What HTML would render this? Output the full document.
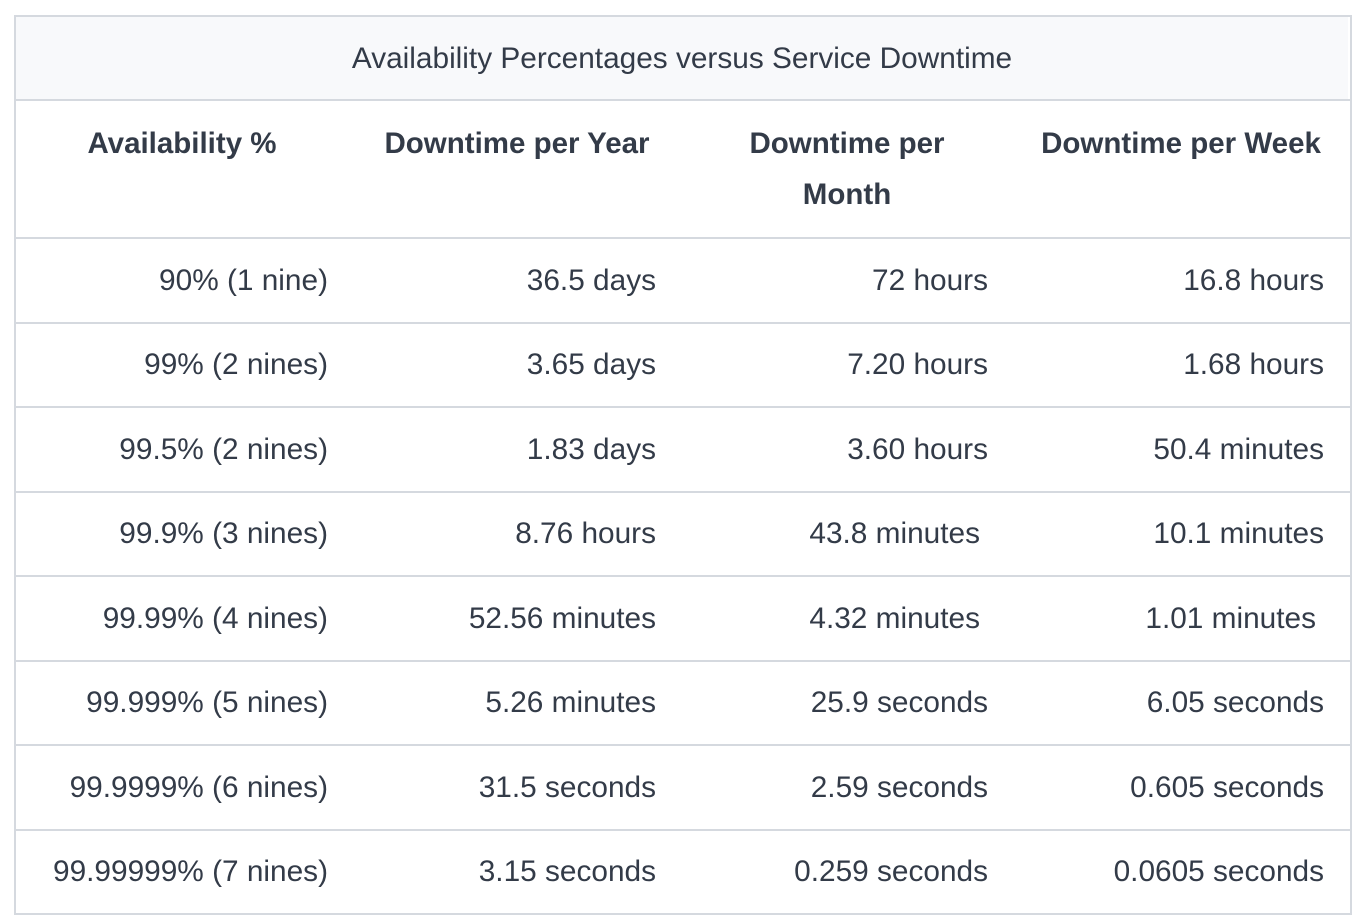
<!DOCTYPE html>
<html><head><meta charset="utf-8"><style>
body{margin:0;width:1362px;height:920px;background:#fff;font-family:"Liberation Sans",sans-serif;color:#333b48;position:relative;overflow:hidden}
.t{position:absolute;white-space:nowrap;font-size:29.8px;line-height:30px;height:30px}
.r{text-align:right}
.c{text-align:center}
.h{font-weight:bold;font-size:29.5px}
.line{position:absolute;left:14px;width:1336px;height:2px;background:#d5d9df}
</style></head><body>
<div style="position:absolute;left:14px;top:15px;width:1334px;height:896px;border:2px solid #d5d9df"></div>
<div style="position:absolute;left:16px;top:17px;width:1332px;height:83px;background:#f8f9fb"></div>
<div class="t c" style="left:14px;width:1336px;top:44px">Availability Percentages versus Service Downtime</div>
<div class="line" style="top:99px"></div>
<div class="t c h" style="left:82px;width:200px;top:129px">Availability %</div>
<div class="t c h" style="left:367px;width:300px;top:129px">Downtime per Year</div>
<div class="t c h" style="left:697px;width:300px;top:129px">Downtime per</div>
<div class="t c h" style="left:697px;width:300px;top:180px">Month</div>
<div class="t c h" style="left:1031px;width:300px;top:129px">Downtime per Week</div>
<script>
const availability=["90% (1 nine)","99% (2 nines)","99.5% (2 nines)","99.9% (3 nines)","99.99% (4 nines)","99.999% (5 nines)","99.9999% (6 nines)","99.99999% (7 nines)"];
const perYear=["36.5 days","3.65 days","1.83 days","8.76 hours","52.56 minutes","5.26 minutes","31.5 seconds","3.15 seconds"];
const perMonth=["72 hours","7.20 hours","3.60 hours","43.8 minutes","4.32 minutes","25.9 seconds","2.59 seconds","0.259 seconds"];
const perWeek=["16.8 hours","1.68 hours","50.4 minutes","10.1 minutes","1.01 minutes","6.05 seconds","0.605 seconds","0.0605 seconds"];
const cols=[[availability,328,'availability-cell'],[perYear,656,'year-cell'],[perMonth,988,'month-cell'],[perWeek,1324,'week-cell']];
const body=document.body;
for(let i=0;i<availability.length;i++){
  const top=237+i*84.5;
  const ln=document.createElement('div');
  ln.className='line';ln.style.top=top+'px';
  
  
  body.appendChild(ln);
  cols.forEach(([arr,right,name],ci)=>{
    const d=document.createElement('div');
    d.className='t r';
    let rr=right;
    if(ci==2&&arr[i].indexOf('minutes')>=0)rr=980;
    if(ci==3&&arr[i]==='1.01 minutes')rr=1316;
    d.style.right=(1362-rr)+'px';
    d.style.top=(top+28.5)+'px';
    d.textContent=arr[i];
    
    
    body.appendChild(d);
  });
}
</script>
</body></html>
